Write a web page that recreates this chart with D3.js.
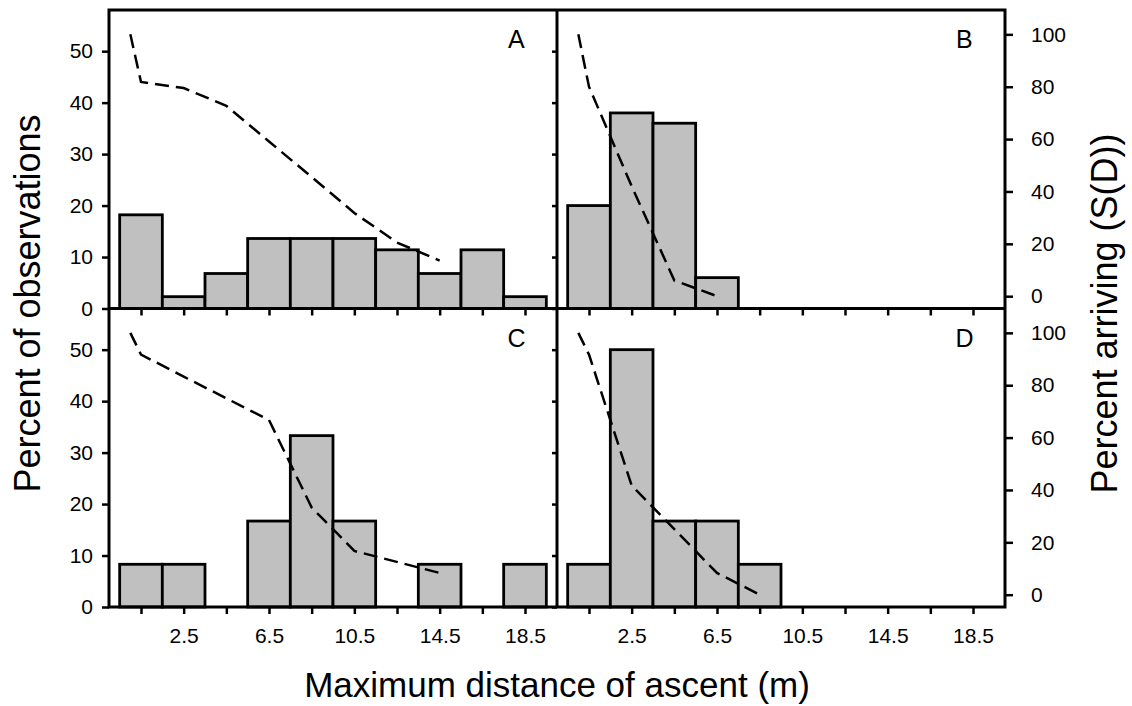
<!DOCTYPE html>
<html>
<head>
<meta charset="utf-8">
<script src="https://cdn.jsdelivr.net/npm/d3@7.9.0/dist/d3.min.js"></script>
<style>
  body { margin: 0; background: #fff; }
  svg { display: block; font-family: "Liberation Sans", Arial, sans-serif; }
  .tick line { stroke: #000; stroke-width: 2.5; }
</style>
</head>
<body>
<svg width="1132" height="706"></svg>
<script>
// bin centres (m) and axis ticks
const binCenters = [0.5, 2.5, 4.5, 6.5, 8.5, 10.5, 12.5, 14.5, 16.5, 18.5];
const xTickLabels = [2.5, 6.5, 10.5, 14.5, 18.5];
const leftTicks = [0, 10, 20, 30, 40, 50];
const rightTicks = [0, 20, 40, 60, 80, 100];

// percent of observations per bin
const barsA = [18.2, 2.3, 6.8, 13.6, 13.6, 13.6, 11.4, 6.8, 11.4, 2.3];
const barsB = [20, 38, 36, 6, 0, 0, 0, 0, 0, 0];
const barsC = [8.3, 8.3, 0, 16.7, 33.3, 16.7, 0, 8.3, 0, 8.3];
const barsD = [8.3, 50, 16.7, 16.7, 8.3, 0, 0, 0, 0, 0];

// percent arriving S(D), dashed lines
const lineXA = [0, 0.5, 2.5, 4.5, 6.5, 8.5, 10.5, 12.5, 14.5];
const lineYA = [100, 81.8, 79.5, 72.7, 59.1, 45.5, 31.8, 20.5, 13.6];
const lineXB = [0, 0.5, 2.5, 4.5, 6.5];
const lineYB = [100, 80, 42, 6, 0];
const lineXC = [0, 0.5, 2.5, 6.5, 8.5, 10.5, 14.5];
const lineYC = [100, 91.7, 83.3, 66.7, 33.3, 16.7, 8.3];
const lineXD = [0, 0.5, 2.5, 4.5, 6.5, 8.5];
const lineYD = [100, 91.7, 41.7, 25, 8.3, 0];

const svg = d3.select('svg');

// layout
const padLeft = 109, padTop = 10;
const panelW = 448, panelH = 298.5;
const font = '"Liberation Sans", Arial, sans-serif';

const panels = [
  { name: 'A', bars: barsA, lx: lineXA, ly: lineYA, col: 0, row: 0 },
  { name: 'B', bars: barsB, lx: lineXB, ly: lineYB, col: 1, row: 0 },
  { name: 'C', bars: barsC, lx: lineXC, ly: lineYC, col: 0, row: 1 },
  { name: 'D', bars: barsD, lx: lineXD, ly: lineYD, col: 1, row: 1 },
];

// make axis text match the figure font
function styleAxis(g) {
  g.attr('font-family', font).attr('font-size', 21);
  g.select('.domain').remove();
  g.selectAll('text').attr('fill', '#000');
}

panels.forEach(p => {
  const x0 = padLeft + p.col * panelW;
  const y0 = padTop + p.row * panelH;
  const x = d3.scaleLinear().domain([-1, 20]).range([x0, x0 + panelW]);
  const y = d3.scaleLinear().domain([0, 58]).range([y0 + panelH, y0]);
  const yr = d3.scaleLinear().domain([-4.7, 109.3]).range([y0 + panelH, y0]);

  // bars
  svg.append('g')
    .selectAll('rect')
    .data(binCenters.map((c, i) => ({ c, v: p.bars[i] })).filter(d => d.v > 0))
    .join('rect')
    .attr('x', d => x(d.c - 1))
    .attr('width', d => x(d.c + 1) - x(d.c - 1))
    .attr('y', d => y(d.v))
    .attr('height', d => y(0) - y(d.v))
    .attr('fill', '#c0c0c0')
    .attr('stroke', '#000')
    .attr('stroke-width', 2.8);

  // dashed S(D) line
  const pts = p.lx.map((v, i) => [v, p.ly[i]]);
  svg.append('path')
    .datum(pts)
    .attr('d', d3.line().x(d => x(d[0])).y(d => yr(d[1])))
    .attr('fill', 'none')
    .attr('stroke', '#000')
    .attr('stroke-width', 2.5)
    .attr('stroke-dasharray', '14,7');

  // bottom ticks
  svg.append('g')
    .attr('transform', `translate(0,${y0 + panelH})`)
    .call(d3.axisBottom(x).tickValues(binCenters).tickSize(7).tickSizeOuter(0).tickPadding(14)
      .tickFormat(d => (p.row === 1 && xTickLabels.includes(d)) ? d3.format('.1f')(d) : ''))
    .call(styleAxis);

  // left ticks
  svg.append('g')
    .attr('transform', `translate(${x0},0)`)
    .call(d3.axisLeft(y).tickValues(leftTicks).tickSize(p.col === 0 ? 7 : 5).tickSizeOuter(0).tickPadding(9)
      .tickFormat(d => p.col === 0 ? d : ''))
    .call(styleAxis);

  // right axis for right-hand panels
  if (p.col === 1) {
    svg.append('g')
      .attr('transform', `translate(${x0 + panelW},0)`)
      .call(d3.axisRight(yr).tickValues(rightTicks).tickSize(8).tickSizeOuter(0).tickPadding(18))
      .call(styleAxis);
  }

  // panel letter
  svg.append('text')
    .attr('x', x(18.1))
    .attr('y', y0 + 38)
    .attr('text-anchor', 'middle')
    .attr('font-size', 25)
    .text(p.name);
});

// frame: outer box plus the middle dividers
const frame = svg.append('g').attr('fill', 'none').attr('stroke', '#000').attr('stroke-width', 3);
frame.append('rect')
  .attr('x', padLeft).attr('y', padTop)
  .attr('width', panelW * 2).attr('height', panelH * 2);
frame.append('line')
  .attr('x1', padLeft + panelW).attr('x2', padLeft + panelW)
  .attr('y1', padTop).attr('y2', padTop + panelH * 2);
frame.append('line')
  .attr('x1', padLeft).attr('x2', padLeft + panelW * 2)
  .attr('y1', padTop + panelH).attr('y2', padTop + panelH);

// axis titles
svg.append('text')
  .attr('transform', `translate(40,${padTop + panelH - 5}) rotate(-90)`)
  .attr('text-anchor', 'middle')
  .attr('font-size', 36)
  .text('Percent of observations');

svg.append('text')
  .attr('transform', `translate(1117,${padTop + panelH + 5}) rotate(-90)`)
  .attr('text-anchor', 'middle')
  .attr('font-size', 36)
  .text('Percent arriving (S(D))');

svg.append('text')
  .attr('x', padLeft + panelW)
  .attr('y', 697)
  .attr('text-anchor', 'middle')
  .attr('font-size', 35)
  .text('Maximum distance of ascent (m)');
</script>
</body>
</html>
